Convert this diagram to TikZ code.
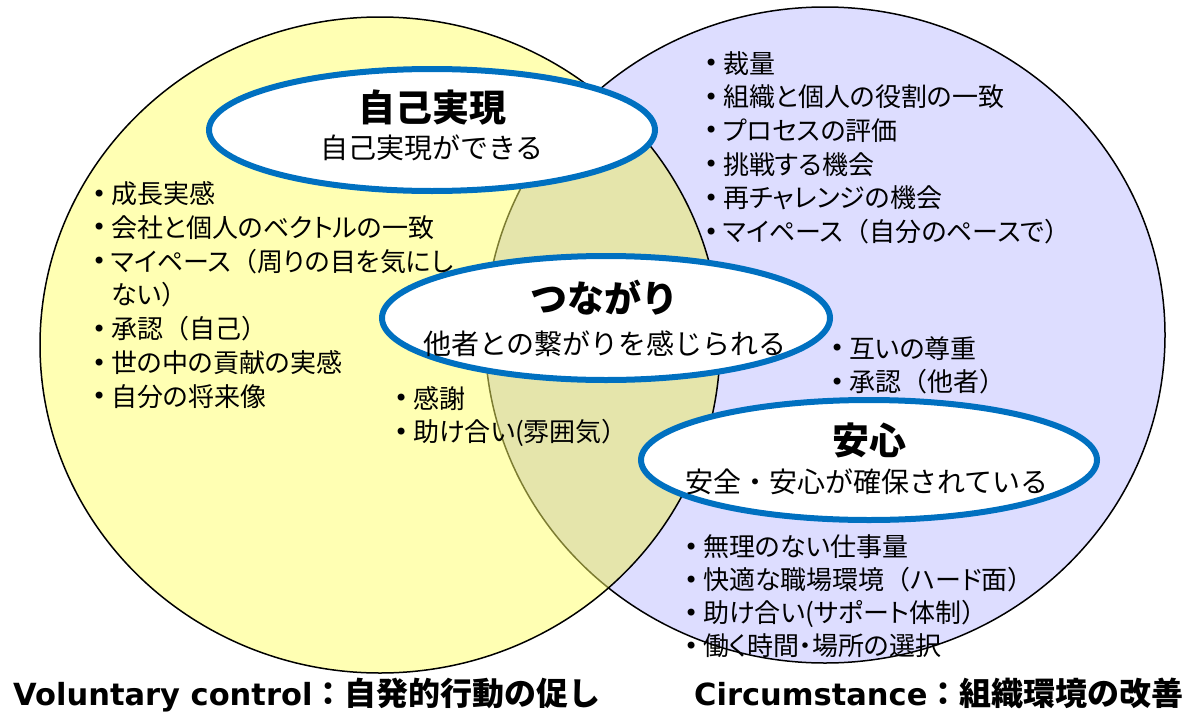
\documentclass[tikz,border=0pt]{standalone}
\usepackage{fontspec}
\setmainfont{Noto Sans CJK JP}
\newfontfamily\jpp{Noto Sans CJK JP}[RawFeature={+palt}]
\newfontfamily\jpn{Noto Sans CJK JP}
\newfontfamily\dv{DejaVu Sans}
\usetikzlibrary{shapes.geometric}
\definecolor{lav}{RGB}{221,221,255}
\definecolor{yel}{RGB}{255,255,103}
\definecolor{eblue}{RGB}{0,112,192}
\newcommand\bul{\llap{\raisebox{1.5pt}{\dv\fontsize{24}{24}\selectfont •}\hspace{4.9pt}}}
\newcommand\LP{{\jpn （}}
\newcommand\RP{{\jpn ）}}
\begin{document}
\begin{tikzpicture}[x=1pt,y=-1pt,
  venn/.style={ellipse,draw=black,line width=1.5pt,inner sep=0pt,minimum width=680pt,minimum height=656pt},
  bub/.style={ellipse,draw=eblue,line width=6pt,fill=white,inner sep=0pt},
  ttl/.style={anchor=base,inner sep=0pt,font=\bfseries\fontsize{37}{37}\selectfont},
  sub/.style={anchor=base,inner sep=0pt,font=\fontsize{28}{28}\selectfont},
  itm/.style={anchor=base west,inner sep=0pt,font=\jpp\fontsize{26}{26}\selectfont},
  botlab/.style={anchor=base west,inner sep=0pt,font=\bfseries\fontsize{32}{32}\selectfont}]
\useasboundingbox (0,0) rectangle (1193,712);
% circles
\node[venn,fill=lav] (cr) at (825,335) {};
\node[venn,fill=yel,fill opacity=0.5] (cl) at (380,345) {};
\begin{scope}
  \clip (825,335) ellipse [x radius=340pt, y radius=328pt];
  \fill[black,opacity=0.035] (380,345) ellipse [x radius=340pt, y radius=328pt];
\end{scope}
% bubbles
\node[bub,minimum width=446pt,minimum height=122pt] (e1) at (432,130) {};
\node[bub,minimum width=448pt,minimum height=124pt] (e2) at (606,318) {};
\node[bub,minimum width=456pt,minimum height=120pt] (e3) at (869,460) {};
% titles
\node[ttl] (t1) at (432,121) {自己実現};
\node[sub] (s1) at (432,158) {自己実現ができる};
\node[ttl] (t2) at (604,312) {つながり};
\node[sub] (s2) at (605,354) {他者との繋がりを感じられる};
\node[ttl] (t3) at (869,454) {安心};
\node[sub] (s3) at (867,492) {安全・安心が確保されている};
% left list
\node[itm] (a0) at (111,203.5) {\bul 成長実感};
\node[itm] (a1) at (111,237.3) {\bul 会社と個人のベクトルの一致};
\node[itm] (a2) at (111,271.1) {\bul マイペース\LP 周りの目を気にし};
\node[itm] (a3) at (111,304.9) {ない\RP};
\node[itm] (a4) at (111,338.7) {\bul 承認\LP 自己\RP};
\node[itm] (a5) at (111,372.5) {\bul 世の中の貢献の実感};
\node[itm] (a6) at (111,406.3) {\bul 自分の将来像};
% right top list
\foreach \t [count=\i from 0] in {裁量,組織と個人の役割の一致,プロセスの評価,挑戦する機会,再チャレンジの機会,マイペース\LP 自分のペースで\RP}
  \node[itm] (b\i) at (723,{73+33.7*\i}) {\bul\t};
% middle list
\node[itm] (m0) at (413,408) {\bul 感謝};
\node[itm] (m1) at (413,441.5) {\bul 助け合い(雰囲気\RP};
% right middle list
\node[itm] (r0) at (849,358) {\bul 互いの尊重};
\node[itm] (r1) at (849,391.5) {\bul 承認\LP 他者\RP};
% bottom right list
\foreach \t [count=\i from 0] in {無理のない仕事量,快適な職場環境\LP ハード面\RP,助け合い(サポート体制\RP,働く時間・場所の選択}
  \node[itm] (d\i) at (703,{556.5+33*\i}) {\bul\t};
% bottom labels
\node[botlab] (vl) at (13,705) {{\dv\fontsize{30.5}{30.5}\selectfont Voluntary control}：自発的行動の促し};
\node[botlab] (cl2) at (694,705) {{\dv\fontsize{30.5}{30.5}\selectfont Circumstance}：組織環境の改善};
\end{tikzpicture}
\end{document}
